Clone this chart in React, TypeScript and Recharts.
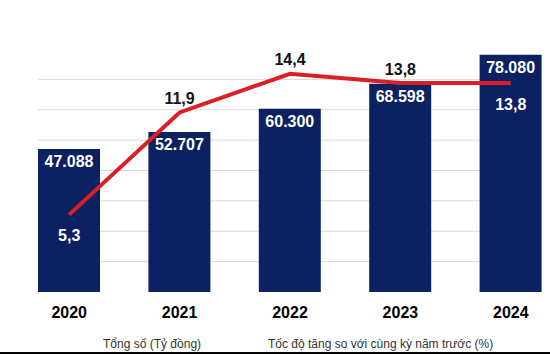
import { ComposedChart, Bar, Line, XAxis, YAxis, CartesianGrid, LabelList, Legend } from 'recharts';

const years = ['2020', '2021', '2022', '2023', '2024'];
const totals = [47088, 52707, 60300, 68598, 78080];
const growth = [5.3, 11.9, 14.4, 13.8, 13.8];
const gridTicks = [10000, 20000, 30000, 40000, 50000, 60000, 70000];
const legendLabels = ['Tổng số (Tỷ đồng)', 'Tốc độ tăng so với cùng kỳ năm trước (%)'];

const data = years.map((year, i) => ({ year, total: totals[i], growth: growth[i] }));

const FONT = '"Liberation Sans", Arial, sans-serif';
const NAVY = '#0b2161';
const RED = '#dc1f26';

const fmtTotal = (v: number) => String(v).replace(/\B(?=(\d{3})+(?!\d))/g, '.');
const fmtPct = (v: number) => v.toFixed(1).replace('.', ',');

function GrowthLabel(props: any) {
  const { x, y, value, index } = props;
  const below = index === 0 || index === years.length - 1;
  return (
    <text
      x={x}
      y={below ? y + 21 : y - 14}
      textAnchor="middle"
      dominantBaseline="central"
      fontFamily={FONT}
      fontSize={16}
      fontWeight="bold"
      fill={below ? '#fff' : '#111'}
    >
      {fmtPct(value)}
    </text>
  );
}

// skip the line drawn at the very top / bottom edge of the plot
function GridLine(props: any) {
  const { x1, y1, x2, y2, y, height, stroke, strokeWidth } = props;
  if (Math.abs(y1 - y) < 1 || Math.abs(y1 - (y + height)) < 1) return null;
  return <line x1={x1} y1={y1} x2={x2} y2={y2} stroke={stroke} strokeWidth={strokeWidth} />;
}

function LegendContent() {
  return (
    <div style={{ position: 'relative', height: 30, fontFamily: FONT, fontSize: 12, color: '#333' }}>
      <span style={{ position: 'absolute', left: 103, top: 12, lineHeight: '14px' }}>{legendLabels[0]}</span>
      <span style={{ position: 'absolute', left: 268, top: 12, lineHeight: '14px' }}>{legendLabels[1]}</span>
    </div>
  );
}

export default function App() {
  return (
    <div style={{ position: 'absolute', left: 0, top: 0, width: 550, height: 355, overflow: 'hidden', background: '#fff' }}>
      <ComposedChart width={570} height={355} data={data} margin={{ top: 49, right: 4, left: 14, bottom: 0 }}>
        <CartesianGrid
          yAxisId="amt"
          horizontal={(p: any) => <GridLine key={p.key} {...p} />}
          vertical={false}
          x={38}
          width={503}
          stroke="#d9d9d9"
          strokeWidth={1}
        />
        <XAxis
          dataKey="year"
          axisLine={false}
          tickLine={false}
          tickSize={0}
          tickMargin={15}
          height={33}
          tick={{ fontSize: 16, fontWeight: 'bold', fill: '#000', fontFamily: FONT }}
        />
        <YAxis yAxisId="amt" hide domain={[0, 80000]} ticks={gridTicks} />
        <YAxis yAxisId="pct" hide orientation="right" domain={[0.3, 16]} />
        <Legend verticalAlign="bottom" content={<LegendContent />} wrapperStyle={{ left: 0, width: 550 }} />
        <Bar yAxisId="amt" dataKey="total" fill={NAVY} barSize={62} isAnimationActive={false}>
          <LabelList
            dataKey="total"
            position="insideTop"
            offset={7}
            formatter={(v: number) => fmtTotal(v)}
            style={{ fontSize: 16, fontWeight: 'bold', fill: '#fff', fontFamily: FONT }}
          />
        </Bar>
        <Line
          yAxisId="pct"
          dataKey="growth"
          stroke={RED}
          strokeWidth={4}
          dot={false}
          activeDot={false}
          isAnimationActive={false}
        >
          <LabelList dataKey="growth" content={<GrowthLabel />} />
        </Line>
      </ComposedChart>
      <div style={{ position: 'absolute', left: 0, top: 352, width: 550, height: 2, background: '#000' }} />
    </div>
  );
}
